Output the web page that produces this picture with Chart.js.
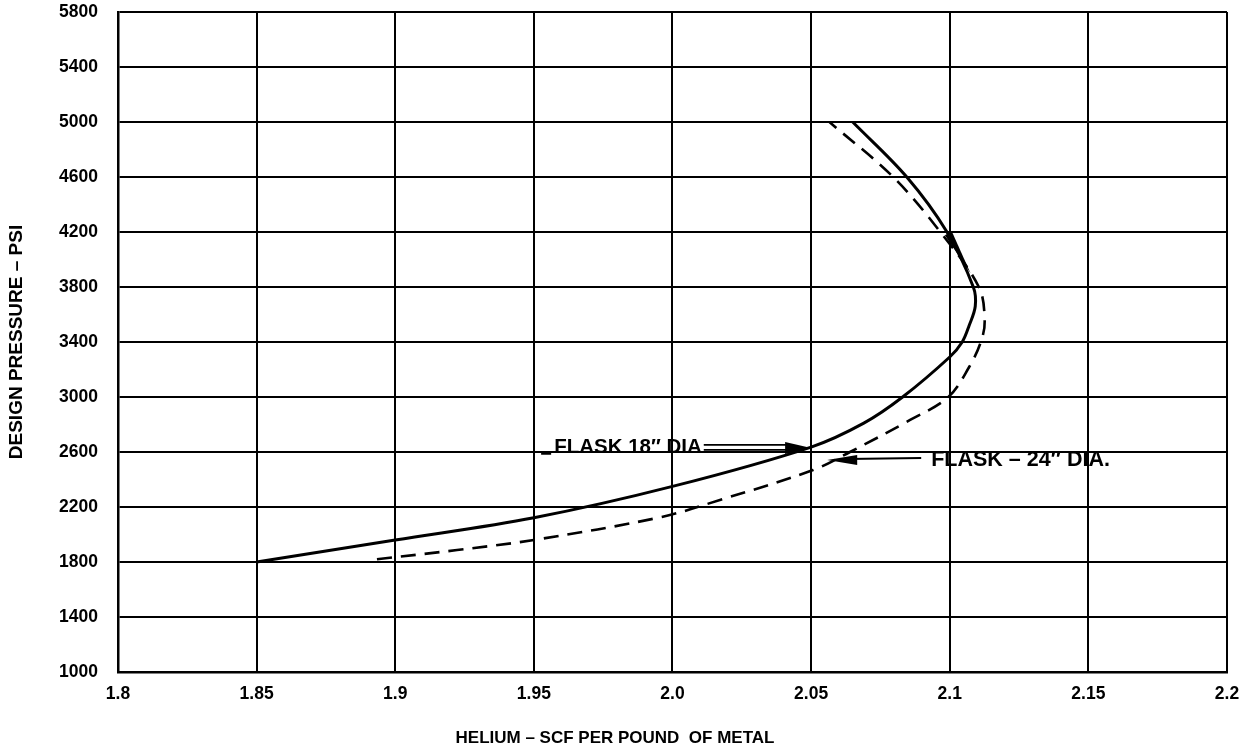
<!DOCTYPE html>
<html>
<head>
<meta charset="utf-8">
<title>Helium per pound of metal vs design pressure</title>
<script src="https://cdn.jsdelivr.net/npm/chart.js@4.4.1/dist/chart.umd.min.js"></script>
<style>
  html, body { margin: 0; padding: 0; background: #ffffff; }
  #wrap { width: 1253px; height: 751px; }
</style>
</head>
<body>
<div id="wrap"><canvas id="chart" width="1253" height="751"></canvas></div>
<script>
// Flask 18" diameter (solid curve): helium SCF per lb of metal vs design pressure
const flask18Helium   = [1.85, 1.90, 1.95, 2.00, 2.05, 2.069, 2.083, 2.100, 2.1045, 2.107, 2.1092, 2.1085, 2.099, 2.0845, 2.065];
const flask18Pressure = [1800, 1960, 2122, 2350, 2636, 2810, 3000, 3291, 3400, 3520, 3660, 3800, 4200, 4600, 5000];

// Flask 24" diameter (dashed curve)
const flask24Helium   = [1.8934, 1.9223, 1.95, 1.9955, 2.0171, 2.0507, 2.064, 2.0857, 2.0995, 2.107, 2.1112, 2.1126, 2.1105, 2.0966, 2.0796, 2.0566];
const flask24Pressure = [1820, 1887, 1960, 2125, 2251, 2469, 2600, 2833, 3000, 3218, 3400, 3550, 3800, 4200, 4600, 5000];

// Axis ticks
const heliumTicks     = [1.80, 1.85, 1.90, 1.95, 2.00, 2.05, 2.10, 2.15, 2.20];
const heliumTickText  = ['1.8', '1.85', '1.9', '1.95', '2.0', '2.05', '2.1', '2.15', '2.2'];
const pressureTicks   = [1000, 1400, 1800, 2200, 2600, 3000, 3400, 3800, 4200, 4600, 5000, 5400, 5800];

// Callout targets on each curve
const flask18Label = 'FLASK 18\u2033 DIA';
const flask24Label = 'FLASK \u2013 24\u2033 DIA.';
const flask18Tip = { x: 2.05, y: 2630 };
const flask24Tip = { x: 2.0558, y: 2542 };

// Heavy ink wedge where the two curves merge near the top of the bend
const mergeWedge = { from: { x: 2.0995, y: 4190 }, to: { x: 2.1075, y: 3900 } };

const xTitle = 'HELIUM \u2013 SCF PER POUND  OF METAL';
const yTitle = 'DESIGN PRESSURE \u2013 PSI';

const FONT = '"Liberation Sans", Arial, Helvetica, sans-serif';

function toPoints(xs, ys) {
  return xs.map((x, i) => ({ x: x, y: ys[i] }));
}

function arrowHead(ctx, tipX, tipY, dir, len, half) {
  ctx.beginPath();
  ctx.moveTo(tipX, tipY);
  ctx.lineTo(tipX - dir * len, tipY - half);
  ctx.lineTo(tipX - dir * len, tipY + half);
  ctx.closePath();
  ctx.fill();
}

const annotations = {
  id: 'annotations',
  afterDraw(chart) {
    const ctx = chart.ctx;
    const area = chart.chartArea;
    const xs = chart.scales.x, ys = chart.scales.y;
    ctx.save();
    ctx.fillStyle = '#000';
    ctx.strokeStyle = '#000';

    // Axis titles
    ctx.textAlign = 'center';
    ctx.textBaseline = 'middle';
    ctx.font = 'bold 17px ' + FONT;
    ctx.fillText(xTitle, 615, 738);
    ctx.save();
    ctx.font = 'bold 19px ' + FONT;
    ctx.translate(17, (area.top + area.bottom) / 2);
    ctx.rotate(-Math.PI / 2);
    ctx.fillText(yTitle, 0, 0);
    ctx.restore();

    // Tapered wedge along the merged curves
    const ax = xs.getPixelForValue(mergeWedge.from.x), ay = ys.getPixelForValue(mergeWedge.from.y);
    const bx = xs.getPixelForValue(mergeWedge.to.x),   by = ys.getPixelForValue(mergeWedge.to.y);
    const len = Math.hypot(bx - ax, by - ay);
    const nx = -(by - ay) / len, ny = (bx - ax) / len;
    ctx.beginPath();
    ctx.moveTo(ax + nx * 4, ay + ny * 4);
    ctx.lineTo(bx, by);
    ctx.lineTo(ax - nx * 4, ay - ny * 4);
    ctx.closePath();
    ctx.fill();

    // FLASK 18" callout: label with double-shaft arrow to the solid curve
    const t18x = xs.getPixelForValue(flask18Tip.x);
    const t18y = ys.getPixelForValue(flask18Tip.y);
    ctx.font = 'bold 20.5px ' + FONT;
    ctx.textAlign = 'left';
    ctx.textBaseline = 'middle';
    const l18x = t18x - 257;
    ctx.fillText(flask18Label, l18x, t18y - 1);
    const w18 = ctx.measureText(flask18Label).width;
    ctx.lineWidth = 1.6;
    ctx.beginPath();
    ctx.moveTo(l18x - 13, t18y + 6); ctx.lineTo(l18x - 3, t18y + 6);
    ctx.moveTo(l18x + w18 + 2, t18y - 3); ctx.lineTo(t18x - 20, t18y - 3);
    ctx.moveTo(l18x + w18 + 2, t18y + 2); ctx.lineTo(t18x - 20, t18y + 2);
    ctx.stroke();
    arrowHead(ctx, t18x, t18y, 1, 26, 6);

    // FLASK 24" callout: leader from the right pointing at the dashed curve
    const t24x = xs.getPixelForValue(flask24Tip.x);
    const t24y = ys.getPixelForValue(flask24Tip.y);
    ctx.lineWidth = 2;
    ctx.beginPath();
    ctx.moveTo(t24x + 20, t24y - 1);
    ctx.lineTo(t24x + 94, t24y - 2);
    ctx.stroke();
    arrowHead(ctx, t24x, t24y, -1, 30, 5);
    ctx.font = 'bold 21.5px ' + FONT;
    ctx.fillText(flask24Label, t24x + 104, t24y);

    ctx.restore();
  }
};

const ctx = document.getElementById('chart').getContext('2d');
new Chart(ctx, {
  type: 'scatter',
  data: {
    datasets: [
      {
        label: 'Flask 18" dia',
        data: toPoints(flask18Helium, flask18Pressure),
        showLine: true,
        borderColor: '#000',
        borderWidth: 3,
        pointRadius: 0,
        tension: 0.35,
        fill: false
      },
      {
        label: 'Flask 24" dia',
        data: toPoints(flask24Helium, flask24Pressure),
        showLine: true,
        borderColor: '#000',
        borderWidth: 2.6,
        borderDash: [15, 9],
        pointRadius: 0,
        tension: 0.35,
        fill: false
      }
    ]
  },
  options: {
    responsive: false,
    animation: false,
    devicePixelRatio: 1,
    layout: { padding: { left: 0, right: 26, top: 12, bottom: 0 } },
    plugins: {
      legend: { display: false },
      tooltip: { enabled: false }
    },
    scales: {
      x: {
        type: 'linear',
        min: 1.8,
        max: 2.2,
        afterBuildTicks(scale) { scale.ticks = heliumTicks.map(v => ({ value: v })); },
        afterFit(scale) { scale.height = 79; },
        grid: { color: '#000', lineWidth: 2, drawTicks: true, tickLength: 12, tickColor: 'rgba(0,0,0,0)' },
        border: { display: true, color: '#000', width: 2.5 },
        ticks: {
          color: '#000',
          padding: 0,
          maxRotation: 0,
          font: { family: FONT, size: 17.5, weight: 'bold' },
          callback(value, index) { return heliumTickText[index]; }
        }
      },
      y: {
        type: 'linear',
        min: 1000,
        max: 5800,
        afterBuildTicks(scale) { scale.ticks = pressureTicks.map(v => ({ value: v })); },
        afterFit(scale) { scale.width = 118; },
        grid: { color: '#000', lineWidth: 2, drawTicks: true, tickLength: 20, tickColor: 'rgba(0,0,0,0)' },
        border: { display: true, color: '#000', width: 2.5 },
        ticks: {
          color: '#000',
          padding: 0,
          font: { family: FONT, size: 17.5, weight: 'bold' },
          callback(value) { return String(value); }
        }
      }
    }
  },
  plugins: [annotations]
});
</script>
</body>
</html>
